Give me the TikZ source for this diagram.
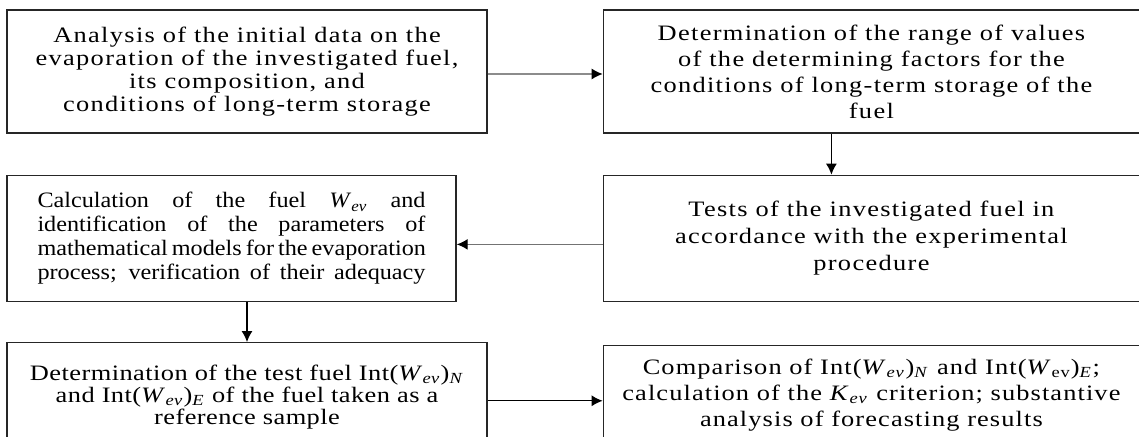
\documentclass[tikz,border=0pt]{standalone}
\usepackage{fontspec}
\setmainfont{Liberation Serif}
\usetikzlibrary{positioning,arrows.meta}

\tikzset{
  stepbox/.style={draw=black!85, line width=0.7pt, align=center, inner sep=2pt,
    font=\fontsize{11}{11.5}\selectfont\addfontfeature{FakeStretch=1.2,LetterSpace=6}},
  flow/.style={-{Latex[length=5.5pt,width=5.5pt,color=black]}, line width=0.7pt},
}
\newcommand{\Wev}{\textit{W}\textsubscript{\textit{ev}}}
\newcommand{\spreadline}[1]{\makebox[194pt][s]{#1}}

\begin{document}
\begin{tikzpicture}[x=0.5pt,y=-0.5pt]
    \useasboundingbox (0,0) rectangle (1139,437);
    \clip (0,0) rectangle (1139,437);

    \node[stepbox, minimum width=240pt, minimum height=61.5pt] (b1) at (247,71.5)
      {Analysis of the initial data on the\\ evaporation of the investigated fuel,\\ its composition, and\\ conditions of long-term storage};
    \node[stepbox, minimum width=268pt, minimum height=61.5pt,
      right=57.5pt of b1.north east, anchor=north west,
      font=\fontsize{11}{13}\selectfont\addfontfeature{FakeStretch=1.2,LetterSpace=6}] (b2)
      {Determination of the range of values\\ of the determining factors for the\\ conditions of long-term storage of the\\ fuel};
    \node[stepbox, minimum width=268pt, minimum height=63pt, below=20.5pt of b2,
      font=\fontsize{11}{13.5}\selectfont\addfontfeature{FakeStretch=1.2,LetterSpace=6}] (b4)
      {Tests of the investigated fuel in\\ accordance with the experimental\\ procedure};
    \node[stepbox, align=left, minimum width=224.5pt, minimum height=63pt,
      below=20.5pt of b1.south west, anchor=north west,
      font=\fontsize{11}{12}\selectfont\addfontfeature{FakeStretch=1.1}] (b3)
      {\spreadline{Calculation of the fuel \Wev{} and}\\
       \spreadline{identification of the parameters of}\\
       \spreadline{mathematical models for the evaporation}\\
       \spreadline{process; verification of their adequacy}};
    \node[stepbox, minimum width=240pt, minimum height=54pt,
      below=20pt of b3.south west, anchor=north west,
      font=\fontsize{11}{10}\selectfont\addfontfeature{FakeStretch=1.2,LetterSpace=2}] (b5)
      {Determination of the test fuel Int(\Wev)\textsubscript{\textit{N}}\\ and Int(\Wev)\textsubscript{\textit{E}} of the fuel taken as a\\ reference sample};
    \node[stepbox, minimum width=268pt, minimum height=49pt, below=21.5pt of b4,
      font=\fontsize{11}{13}\selectfont\addfontfeature{FakeStretch=1.2,LetterSpace=5}] (b6)
      {Comparison of Int(\Wev)\textsubscript{\textit{N}} and Int(\textit{W}\textsubscript{ev})\textsubscript{\textit{E}};\\ calculation of the \textit{K}\textsubscript{\textit{ev}} criterion; substantive\\ analysis of forecasting results};

    %% across the top
    \draw[flow, draw=black!45] ([yshift=-1.25pt]b1.east) -- ([yshift=-1.25pt]b1.east -| b2.west);
    %% down the right
    \draw[flow] ([xshift=-20pt]b2.south) -- ([xshift=-20pt]b4.north);
    %% back to the left
    \draw[flow, draw=black!55] ([yshift=-3pt]b4.west) -- ([yshift=-3pt]b4.west -| b3.east);
    \draw[flow] (b3.south -| b5.north) -- (b5.north);
    %% last step
    \draw[flow] ([yshift=-2pt]b5.east) -- ([yshift=-2pt]b5.east -| b6.west);
\end{tikzpicture}
\end{document}
